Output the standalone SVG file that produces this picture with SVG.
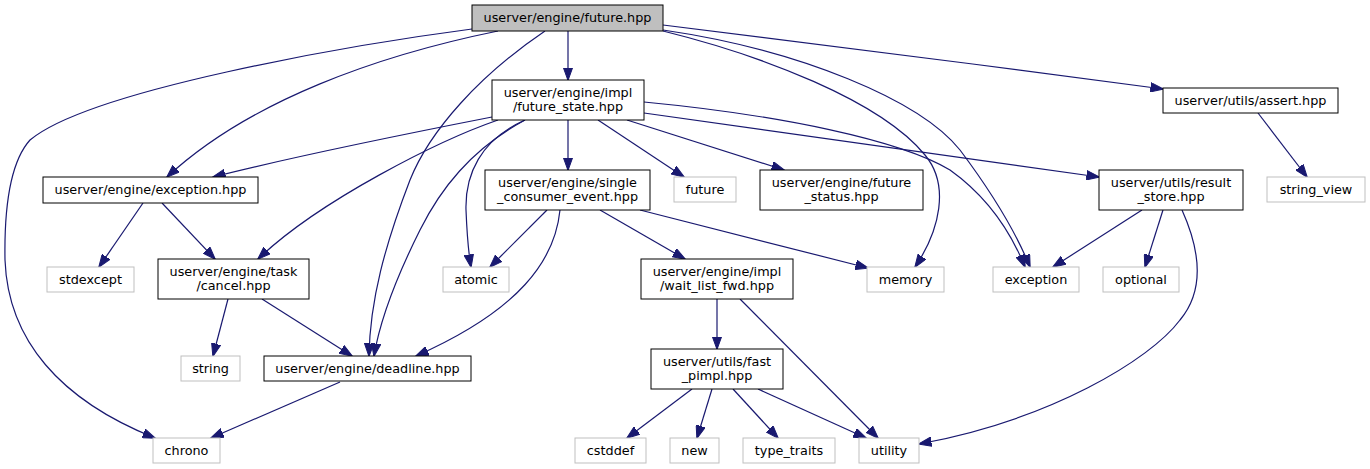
<svg xmlns="http://www.w3.org/2000/svg" width="1370" height="469" viewBox="0 0 1370 469">
<style>
.n rect{fill:#fff;stroke:#000;stroke-width:1}
.x rect{fill:#fff;stroke:#bfbfbf;stroke-width:1}
.r rect{fill:#bfbfbf;stroke:#000;stroke-width:1}
text{font-family:"DejaVu Sans","Liberation Sans",sans-serif;font-size:12.8px;fill:#000;text-anchor:middle}
#edges path{fill:none;stroke:#191970;stroke-width:1.2;marker-end:url(#a)}
</style>
<defs>
<marker id="a" viewBox="0 0 13 10" markerWidth="13" markerHeight="10" refX="12.5" refY="5" orient="auto" markerUnits="userSpaceOnUse">
<path d="M0,0.3 L13,5 L0,9.7 z" fill="#191970" stroke="#191970" stroke-width="1"/>
</marker>
</defs>
<rect width="1370" height="469" fill="#fff"/>
<g id="edges">
<path d="M568,31 L568,80"/>
<path d="M498,31 C 380,55 250,100 167,177"/>
<path d="M545,31 C 480,75 430,130 410,180 C 385,245 370,300 369,356"/>
<path d="M472,29 C 350,45 90,90 30,140 C 12,160 4,200 5,260 C 8,340 60,400 155,438"/>
<path d="M663,31 C 760,55 880,100 925,155 C 950,185 940,230 915,267"/>
<path d="M663,30 C 800,50 920,100 960,150 C 990,190 1015,230 1030,267"/>
<path d="M663,25 C 800,42 1000,67 1163,89"/>
<path d="M492,117 C 400,135 300,155 213,177"/>
<path d="M498,120 C 440,140 320,200 258,259"/>
<path d="M525,120 C 470,150 440,190 420,230 C 395,280 380,320 374,356"/>
<path d="M525,120 C 480,140 465,175 466,210 C 467,235 468,250 471,267"/>
<path d="M568,120 L568,170"/>
<path d="M598,120 L684,177"/>
<path d="M627,120 L784,170"/>
<path d="M644,113 L1099,177"/>
<path d="M644,102 C 780,115 900,140 950,170 C 985,195 1010,230 1025,267"/>
<path d="M547,210 L490,267"/>
<path d="M560,210 C 555,260 520,310 416,356"/>
<path d="M600,210 L685,259"/>
<path d="M640,210 L868,268"/>
<path d="M143,203 L99,267"/>
<path d="M162,203 L215,259"/>
<path d="M228,299 L213,356"/>
<path d="M262,299 L352,356"/>
<path d="M340,382 L211,438"/>
<path d="M717,299 L717,349"/>
<path d="M740,299 L878,438"/>
<path d="M692,389 L627,438"/>
<path d="M712,389 L697,438"/>
<path d="M733,389 L778,438"/>
<path d="M758,389 L866,438"/>
<path d="M1142,210 L1053,267"/>
<path d="M1163,210 L1145,267"/>
<path d="M1182,210 C 1200,250 1205,290 1180,320 C 1150,360 1050,420 919,444"/>
<path d="M1258,113 L1307,177"/>
</g>
<g id="future" class="r"><rect x="472" y="5" width="191" height="26"/><text x="567.5" y="22">userver/engine/future.hpp</text></g>
<g id="future_state" class="n"><rect x="492" y="80" width="152" height="40"/><text x="568" y="97">userver/engine/impl</text><text x="568" y="111">/future_state.hpp</text></g>
<g id="assert" class="n"><rect x="1163" y="88" width="175" height="25"/><text x="1250.5" y="105">userver/utils/assert.hpp</text></g>
<g id="exception_hpp" class="n"><rect x="43" y="177" width="215" height="26"/><text x="150.5" y="194">userver/engine/exception.hpp</text></g>
<g id="stdexcept" class="x"><rect x="47" y="267" width="87" height="25"/><text x="90.5" y="284">stdexcept</text></g>
<g id="cancel" class="n"><rect x="158" y="259" width="151" height="40"/><text x="233.5" y="276">userver/engine/task</text><text x="233.5" y="290">/cancel.hpp</text></g>
<g id="single_consumer_event" class="n"><rect x="485" y="170" width="165" height="40"/><text x="567.5" y="187">userver/engine/single</text><text x="567.5" y="201">_consumer_event.hpp</text></g>
<g id="future_std" class="x"><rect x="674" y="177" width="62" height="25"/><text x="705" y="194">future</text></g>
<g id="future_status" class="n"><rect x="760" y="170" width="163" height="40"/><text x="841.5" y="187">userver/engine/future</text><text x="841.5" y="201">_status.hpp</text></g>
<g id="atomic" class="x"><rect x="443" y="267" width="66" height="25"/><text x="476" y="284">atomic</text></g>
<g id="wait_list_fwd" class="n"><rect x="641" y="259" width="152" height="40"/><text x="717" y="276">userver/engine/impl</text><text x="717" y="290">/wait_list_fwd.hpp</text></g>
<g id="memory" class="x"><rect x="867" y="267" width="77" height="25"/><text x="905.5" y="284">memory</text></g>
<g id="exception_std" class="x"><rect x="993" y="267" width="86" height="25"/><text x="1036" y="284">exception</text></g>
<g id="optional" class="x"><rect x="1103" y="267" width="76" height="25"/><text x="1141" y="284">optional</text></g>
<g id="result_store" class="n"><rect x="1099" y="170" width="144" height="40"/><text x="1171" y="187">userver/utils/result</text><text x="1171" y="201">_store.hpp</text></g>
<g id="string_view" class="x"><rect x="1267" y="177" width="98" height="25"/><text x="1316" y="194">string_view</text></g>
<g id="string" class="x"><rect x="181" y="356" width="59" height="25"/><text x="210.5" y="373">string</text></g>
<g id="deadline" class="n"><rect x="264" y="356" width="207" height="25"/><text x="367.5" y="373">userver/engine/deadline.hpp</text></g>
<g id="chrono" class="x"><rect x="153" y="438" width="67" height="25"/><text x="186.5" y="455">chrono</text></g>
<g id="fast_pimpl" class="n"><rect x="651" y="349" width="132" height="40"/><text x="717" y="366">userver/utils/fast</text><text x="717" y="380">_pimpl.hpp</text></g>
<g id="cstddef" class="x"><rect x="575" y="438" width="71" height="25"/><text x="610.5" y="455">cstddef</text></g>
<g id="new" class="x"><rect x="670" y="438" width="49" height="25"/><text x="694.5" y="455">new</text></g>
<g id="type_traits" class="x"><rect x="743" y="438" width="92" height="25"/><text x="789" y="455">type_traits</text></g>
<g id="utility" class="x"><rect x="859" y="438" width="60" height="25"/><text x="889" y="455">utility</text></g>
</svg>
